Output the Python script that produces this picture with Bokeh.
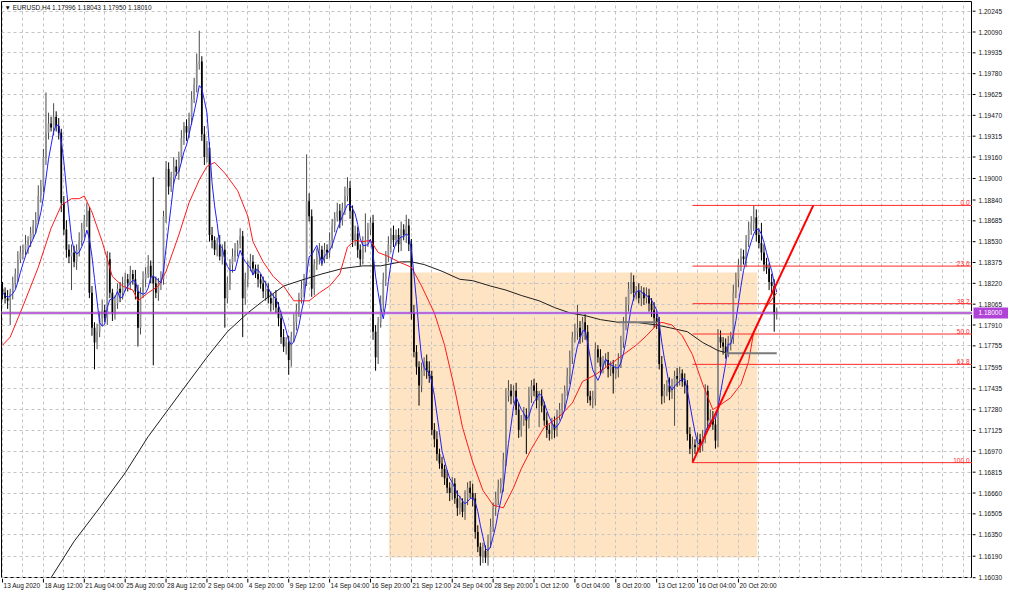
import pandas as pd
from bokeh.plotting import figure
from bokeh.layouts import column, row
from bokeh.models import (ColumnDataSource, FixedTicker, BoxAnnotation, Label, Span, Range1d)
from bokeh.core.properties import value
from bokeh.embed import file_html
from bokeh.resources import INLINE

# ---------------- data ----------------
chart_title = "\u25bc EURUSD,H4  1.17996 1.18043 1.17950 1.18010"

first_open = 1.1818
closes = [
    1.1815, 1.1811, 1.1809, 1.1815, 1.1822, 1.1829, 1.1840, 1.1845, 1.1847, 1.1851, 1.1854, 1.1859, 1.1865, 1.1869, 1.1887, 1.1894,
    1.1916, 1.1934, 1.1941, 1.1938, 1.1946, 1.1939, 1.1934, 1.1882, 1.1862, 1.1847, 1.1842, 1.1845, 1.1838, 1.1847, 1.1854, 1.1862,
    1.1869, 1.1876, 1.1815, 1.1789, 1.1778, 1.1786, 1.1796, 1.1802, 1.1796, 1.1840, 1.1815, 1.1800, 1.1807, 1.1818, 1.1815, 1.1820,
    1.1825, 1.1822, 1.1829, 1.1825, 1.1816, 1.1789, 1.1815, 1.1825, 1.1829, 1.1835, 1.1827, 1.1822, 1.1815, 1.1822, 1.1825, 1.1872,
    1.1907, 1.1894, 1.1901, 1.1909, 1.1905, 1.1916, 1.1930, 1.1939, 1.1934, 1.1945, 1.1959, 1.1970, 1.1985, 1.1987, 1.1933, 1.1916,
    1.1923, 1.1858, 1.1854, 1.1847, 1.1851, 1.1842, 1.1847, 1.1811, 1.1822, 1.1836, 1.1842, 1.1847, 1.1851, 1.1857, 1.1811, 1.1825,
    1.1835, 1.1838, 1.1833, 1.1829, 1.1825, 1.1822, 1.1816, 1.1818, 1.1811, 1.1807, 1.1811, 1.1804, 1.1796, 1.1782, 1.1775, 1.1778,
    1.1765, 1.1782, 1.1793, 1.1802, 1.1811, 1.1818, 1.1825, 1.1883, 1.1872, 1.1818, 1.1836, 1.1842, 1.1847, 1.1840, 1.1847, 1.1845,
    1.1854, 1.1865, 1.1871, 1.1876, 1.1869, 1.1878, 1.1887, 1.1893, 1.1876, 1.1854, 1.1859, 1.1847, 1.1840, 1.1851, 1.1854, 1.1862,
    1.1867, 1.1786, 1.1767, 1.1793, 1.1807, 1.1825, 1.1842, 1.1851, 1.1858, 1.1854, 1.1858, 1.1851, 1.1862, 1.1858, 1.1865, 1.1851,
    1.1800, 1.1771, 1.1760, 1.1746, 1.1757, 1.1764, 1.1757, 1.1753, 1.1713, 1.1706, 1.1695, 1.1688, 1.1684, 1.1677, 1.1670, 1.1666,
    1.1673, 1.1662, 1.1655, 1.1659, 1.1652, 1.1662, 1.1670, 1.1666, 1.1662, 1.1637, 1.1626, 1.1619, 1.1623, 1.1618, 1.1630, 1.1641,
    1.1655, 1.1662, 1.1670, 1.1673, 1.1691, 1.1738, 1.1742, 1.1738, 1.1742, 1.1728, 1.1713, 1.1720, 1.1724, 1.1720, 1.1738, 1.1746,
    1.1742, 1.1735, 1.1738, 1.1731, 1.1720, 1.1713, 1.1710, 1.1717, 1.1713, 1.1724, 1.1728, 1.1733, 1.1742, 1.1753, 1.1767, 1.1782,
    1.1786, 1.1789, 1.1782, 1.1793, 1.1786, 1.1738, 1.1735, 1.1736, 1.1773, 1.1767, 1.1760, 1.1764, 1.1765, 1.1758, 1.1760, 1.1755,
    1.1758, 1.1764, 1.1778, 1.1793, 1.1806, 1.1818, 1.1823, 1.1815, 1.1816, 1.1811, 1.1815, 1.1811, 1.1813, 1.1807, 1.1802, 1.1796,
    1.1793, 1.1762, 1.1738, 1.1742, 1.1746, 1.1741, 1.1746, 1.1753, 1.1751, 1.1755, 1.1749, 1.1746, 1.1710, 1.1699, 1.1702, 1.1700,
    1.1706, 1.1702, 1.1707, 1.1742, 1.1720, 1.1722, 1.1717, 1.1705, 1.1782, 1.1778, 1.1775, 1.1771, 1.1778, 1.1782, 1.1815, 1.1825,
    1.1836, 1.1842, 1.1840, 1.1854, 1.1862, 1.1867, 1.1871, 1.1858, 1.1852, 1.1845, 1.1836, 1.1833, 1.1823, 1.1820, 1.1800, 1.1801,
]
upper_wick_pips = [
    5, 4, 6, 3, 5, 4, 6, 5, 4, 7, 3, 5, 4, 6, 8, 5,
    6, 30, 8, 5, 10, 4, 6, 3, 5, 7, 4, 6, 5, 4, 6, 5,
    4, 6, 3, 5, 4, 6, 5, 8, 4, 6, 5, 3, 6, 4, 5, 7,
    5, 4, 6, 3, 7, 5, 4, 6, 5, 8, 4, 74, 5, 4, 6, 4,
    6, 5, 4, 7, 5, 4, 6, 3, 5, 4, 6, 5, 8, 23, 4, 6,
    5, 4, 6, 3, 5, 7, 4, 6, 5, 4, 6, 5, 3, 6, 4, 5,
    4, 6, 5, 3, 7, 4, 5, 6, 4, 5, 3, 6, 4, 5, 6, 4,
    5, 4, 6, 5, 4, 6, 4, 35, 6, 5, 4, 6, 5, 3, 5, 4,
    6, 5, 4, 6, 5, 4, 7, 8, 5, 4, 6, 5, 4, 6, 20, 5,
    4, 6, 5, 4, 6, 5, 4, 6, 5, 7, 4, 5, 6, 4, 8, 5,
    4, 6, 5, 4, 6, 3, 5, 7, 4, 5, 6, 4, 5, 3, 6, 4,
    5, 4, 6, 5, 3, 6, 4, 5, 7, 4, 5, 3, 6, 4, 5, 6,
    4, 5, 6, 4, 5, 6, 8, 5, 4, 6, 5, 4, 6, 5, 7, 4,
    5, 6, 4, 5, 3, 6, 4, 5, 6, 4, 5, 7, 4, 6, 5, 4,
    6, 17, 5, 4, 6, 5, 4, 6, 5, 3, 6, 4, 5, 6, 4, 5,
    4, 6, 5, 4, 6, 5, 7, 5, 4, 6, 5, 4, 6, 5, 4, 6,
    5, 4, 6, 5, 4, 6, 5, 4, 6, 5, 3, 6, 4, 5, 6, 4,
    5, 4, 6, 5, 4, 6, 5, 4, 6, 5, 4, 6, 5, 4, 6, 5,
    4, 6, 5, 4, 6, 5, 9, 6, 5, 15, 6, 5, 4, 6, 5, 3,
]
lower_wick_pips = [
    5, 4, 6, 18, 5, 4, 6, 3, 5, 4, 7, 5, 4, 6, 3, 5,
    4, 6, 5, 3, 6, 4, 5, 7, 4, 6, 5, 25, 4, 6, 5, 4,
    6, 5, 4, 6, 20, 5, 4, 6, 3, 5, 4, 6, 5, 4, 7, 5,
    4, 6, 5, 4, 6, 14, 5, 4, 6, 3, 5, 61, 4, 6, 5, 4,
    5, 6, 4, 5, 3, 6, 4, 5, 6, 4, 5, 3, 6, 4, 5, 6,
    4, 5, 6, 4, 5, 3, 6, 22, 4, 5, 6, 4, 5, 3, 29, 5,
    6, 4, 5, 3, 6, 4, 5, 7, 4, 6, 5, 4, 6, 5, 4, 6,
    11, 5, 4, 6, 5, 4, 6, 5, 4, 6, 5, 4, 6, 5, 3, 5,
    4, 6, 5, 3, 6, 4, 5, 4, 6, 5, 4, 6, 5, 4, 6, 5,
    4, 6, 10, 5, 4, 6, 5, 4, 6, 5, 4, 6, 5, 4, 6, 5,
    5, 4, 6, 15, 5, 4, 6, 5, 4, 6, 5, 4, 6, 5, 4, 6,
    5, 4, 6, 5, 4, 6, 5, 4, 6, 5, 4, 7, 5, 4, 6, 5,
    4, 6, 5, 4, 6, 5, 4, 6, 5, 4, 6, 5, 4, 25, 6, 5,
    4, 6, 20, 5, 4, 6, 5, 4, 6, 5, 4, 6, 5, 4, 6, 5,
    4, 6, 5, 4, 6, 5, 4, 6, 5, 4, 6, 5, 4, 6, 5, 15,
    4, 6, 5, 4, 6, 5, 4, 6, 5, 4, 6, 5, 4, 6, 5, 7,
    5, 4, 6, 5, 4, 6, 5, 30, 6, 5, 4, 6, 5, 4, 10, 5,
    4, 6, 5, 4, 6, 5, 4, 6, 5, 4, 6, 5, 4, 6, 5, 4,
    6, 5, 4, 6, 5, 4, 6, 5, 4, 6, 5, 4, 6, 5, 14, 5,
]

date_labels = ["13 Aug 2020", "18 Aug 12:00", "21 Aug 04:00", "25 Aug 20:00", "28 Aug 12:00",
               "2 Sep 04:00", "4 Sep 20:00", "9 Sep 12:00", "14 Sep 04:00", "16 Sep 20:00",
               "21 Sep 12:00", "24 Sep 04:00", "28 Sep 20:00", "1 Oct 12:00", "6 Oct 04:00",
               "8 Oct 20:00", "13 Oct 12:00", "16 Oct 04:00", "20 Oct 20:00"]
bars_per_label = 16

price_ticks = [1.16030, 1.16190, 1.16350, 1.16505, 1.16660, 1.16815, 1.16970, 1.17125, 1.17280,
               1.17435, 1.17595, 1.17755, 1.17910, 1.18065, 1.18220, 1.18375, 1.18530, 1.18685,
               1.18840, 1.19000, 1.19160, 1.19315, 1.19470, 1.19625, 1.19780, 1.19935, 1.20090, 1.20245]

red_ma_bar = [0, 3, 8, 14, 19, 23, 27, 30, 32, 35, 39, 43, 47, 51, 53, 57, 61, 64, 69, 73,
              77, 80, 83, 87, 92, 96, 98, 102, 106, 110, 114, 120, 124, 128, 132, 135, 138, 141, 144, 147,
              151, 155, 160, 164, 169, 173, 177, 180, 184, 188, 192, 196, 200, 203, 207, 212, 218, 223, 227, 232,
              238, 243, 248, 252, 256, 258, 262, 266, 270, 274, 278, 282, 285, 289, 292, 294, 298, 303]
red_ma_price = [1.1776, 1.1782, 1.1805, 1.1834, 1.1863, 1.1880, 1.1885, 1.1885, 1.1887, 1.1875,
                1.1853, 1.1827, 1.1820, 1.1817, 1.1809, 1.1815, 1.1820, 1.1831, 1.1858, 1.1882,
                1.1899, 1.1909, 1.1912, 1.1904, 1.1891, 1.1872, 1.1853, 1.1838, 1.1827, 1.1820,
                1.1809, 1.1809, 1.1815, 1.1820, 1.1829, 1.1849, 1.1854, 1.1853, 1.1854, 1.1845,
                1.1842, 1.1838, 1.1834, 1.1820, 1.1800, 1.1776, 1.1743, 1.1715, 1.1689, 1.1668,
                1.1657, 1.1655, 1.1670, 1.1684, 1.1699, 1.1715, 1.1723, 1.1733, 1.1749, 1.1754,
                1.1762, 1.1769, 1.1776, 1.1783, 1.1791, 1.1793, 1.1791, 1.1783, 1.1769, 1.1747,
                1.1728, 1.1733, 1.1737, 1.1747, 1.1764, 1.1786, 1.1802, 1.1815]

black_ma_bar = [17, 28, 38, 48, 57, 71, 80, 88, 96, 102, 110, 118, 125, 133, 141, 148, 156, 160, 165, 172,
                179, 184, 191, 197, 203, 210, 216, 222, 228, 234, 241, 248, 256, 261, 268, 274, 280, 284]
black_ma_price = [1.1597, 1.1630, 1.1655, 1.1681, 1.1708, 1.1744, 1.1767, 1.1786, 1.1800, 1.1809,
                  1.1820, 1.1825, 1.1829, 1.1833, 1.1835, 1.1835, 1.1838, 1.1838, 1.1836, 1.1831,
                  1.1825, 1.1824, 1.1820, 1.1817, 1.1813, 1.1809, 1.1804, 1.1800, 1.1798, 1.1795,
                  1.1793, 1.1793, 1.1791, 1.1789, 1.1786, 1.1778, 1.1772, 1.1770]

grey_level_start = [241, 283]
grey_level_end = [256, 303]
grey_level_price = [1.1793, 1.1770]

zone_start_bar, zone_end_bar = 151.2, 295.4
zone_top, zone_bottom = 1.1830, 1.1618

hline_price = 1.18000
hline_label = "1.18000"

fib_start_bar = 270
fib_high, fib_low = 1.1880, 1.16886
fib_levels = [0.0, 23.6, 38.2, 50.0, 61.8, 100.0]

trend_bars = [270, 317.3]
trend_prices = [1.16886, 1.1880]

# ---------------- derived ----------------
n = len(closes)
idx = list(range(n))
opens = [first_open] + closes[:-1]
highs = [max(o, c) + u / 10000 for o, c, u in zip(opens, closes, upper_wick_pips)]
lows = [min(o, c) - d / 10000 for o, c, d in zip(opens, closes, lower_wick_pips)]
bull = [c >= o for o, c in zip(opens, closes)]
tops = [max(o, c) for o, c in zip(opens, closes)]
bots = [min(o, c) for o, c in zip(opens, closes)]
tops = [t if t - b > 0.00004 else b + 0.00004 for t, b in zip(tops, bots)]

src = ColumnDataSource(dict(
    x=idx, high=highs, low=lows, top=tops, bottom=bots,
    body=["#8E8E8E" if b else "#000000" for b in bull],
    wick=["#4A4A4A" if b else "#000000" for b in bull],
))

blue_ma = pd.Series(closes).rolling(5, min_periods=1).mean().tolist()
label_bars = [k * bars_per_label for k in range(len(date_labels))]

FONT = "Liberation Sans"
FS = "6.5px"
TXT = "#111111"
PURPLE = "#B042D8"
X0, X1 = -0.4, 379.6
Y0, Y1 = 1.16024, 1.20317
FW, FH = 971, 577
AXW, AXH = 36, 14
price_per_px = (Y1 - Y0) / FH

# ---------------- main chart ----------------
p = figure(frame_width=FW, frame_height=FH, x_range=Range1d(X0, X1), y_range=Range1d(Y0, Y1),
           output_backend="svg", toolbar_location=None, x_axis_location=None, y_axis_location=None,
           min_border=0, min_border_left=1, min_border_top=1)
p.background_fill_color = "white"
p.border_fill_color = "white"
p.outline_line_color = "black"
p.outline_line_width = 1

p.xgrid.ticker = FixedTicker(ticks=list(range(0, 380, 8)))
p.ygrid.ticker = FixedTicker(ticks=price_ticks)
for g in (p.xgrid, p.ygrid):
    g.grid_line_color = "#C4C4C4"
    g.grid_line_dash = "3 3"
    g.grid_line_width = 1

zone = BoxAnnotation(left=zone_start_bar, right=zone_end_bar, top=zone_top, bottom=zone_bottom,
                     fill_color="#FFE4C4", fill_alpha=1.0, line_alpha=0, level="underlay")
p.add_layout(zone)
p.center = [zone] + [r for r in p.center if r is not zone]

p.add_layout(Span(location=hline_price, dimension="width", line_color="#DCDCDC", line_width=4,
                  level="underlay"))

# candles
p.segment(x0="x", y0="low", x1="x", y1="high", line_color="wick", line_width=1, source=src)
p.vbar(x="x", width=0.68, top="top", bottom="bottom", fill_color="body", line_color=None,
       source=src)

# moving averages
p.line(black_ma_bar, black_ma_price, line_color="#1E1E1E", line_width=1)
p.line(red_ma_bar, red_ma_price, line_color="#FF1A1A", line_width=1)
p.line(idx, blue_ma, line_color="#1E1EFF", line_width=1)

p.segment(x0=grey_level_start, y0=grey_level_price, x1=grey_level_end, y1=grey_level_price,
          line_color="#7A7A7A", line_width=2)

# fibonacci
rng = fib_high - fib_low
fib_prices = [fib_high - lv / 100 * rng for lv in fib_levels]
p.segment(x0=[fib_start_bar] * len(fib_prices), y0=fib_prices,
          x1=[X1] * len(fib_prices), y1=fib_prices, line_color="#FF2A2A", line_width=1)
p.text(x=[X1] * len(fib_prices), y=fib_prices, text=["%.1f" % lv for lv in fib_levels],
       text_align="right", text_baseline="bottom", x_offset=-3,
       text_font=value(FONT), text_font_size=value(FS), text_color="#FF2A2A")

p.line(trend_bars, trend_prices, line_color="#FF0000", line_width=2)

p.add_layout(Span(location=hline_price, dimension="width", line_color=PURPLE, line_width=1.5))

p.add_layout(Label(x=X0, y=Y1, text=chart_title, x_offset=3, y_offset=-2, text_align="left",
                   text_baseline="top", text_font=FONT, text_font_size=FS, text_color=TXT))

# ---------------- bottom time scale ----------------
b = figure(frame_width=FW, frame_height=AXH, x_range=p.x_range, y_range=Range1d(0, AXH),
           output_backend="svg", toolbar_location=None, x_axis_location=None,
           y_axis_location=None, min_border=0, min_border_left=1)
b.grid.visible = False
b.outline_line_color = None
b.segment(x0=label_bars, y0=[AXH] * len(label_bars), x1=label_bars, y1=[AXH - 4] * len(label_bars),
          line_color="black", line_width=1)
b.text(x=label_bars, y=[AXH - 3] * len(label_bars), text=date_labels, x_offset=1,
       text_align="left", text_baseline="top", text_font=value(FONT),
       text_font_size=value(FS), text_color=TXT)

# ---------------- right price scale (same price scale, extended by the time-scale strip) ----------------
r = figure(frame_width=AXW, frame_height=FH + AXH, x_range=Range1d(0, AXW),
           y_range=Range1d(Y0 - AXH * price_per_px, Y1),
           output_backend="svg", toolbar_location=None, x_axis_location=None,
           y_axis_location=None, min_border=0, min_border_top=1)
r.grid.visible = False
r.outline_line_color = None
r.segment(x0=[0] * len(price_ticks), y0=price_ticks, x1=[3] * len(price_ticks), y1=price_ticks,
          line_color="black", line_width=1)
r.text(x=[6] * len(price_ticks), y=price_ticks, text=["%.5f" % t for t in price_ticks],
       text_align="left", text_baseline="middle", text_font=value(FONT),
       text_font_size=value(FS), text_color=TXT)
r.rect(x=[AXW / 2 + 0.5], y=[hline_price], width=[AXW - 1], height=[11], height_units="screen",
       fill_color=PURPLE, line_color=None)
r.text(x=[6], y=[hline_price], text=[hline_label], text_align="left", text_baseline="middle",
       text_font=value(FONT), text_font_size=value(FS), text_color="white")

layout = row(column(p, b), r)
open("out.html", "w").write(file_html(layout, INLINE))
